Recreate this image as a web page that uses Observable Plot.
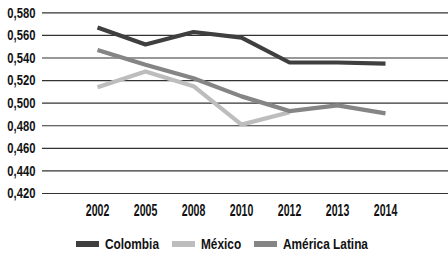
<!DOCTYPE html>
<html>
<head>
<meta charset="utf-8">
<script src="https://cdn.jsdelivr.net/npm/d3@7"></script>
<script src="https://cdn.jsdelivr.net/npm/@observablehq/plot@0.6"></script>
<style>
  html, body { margin: 0; padding: 0; background: #fff; }
  #chart { width: 448px; height: 259px; overflow: hidden; }
  .legend { display: flex; align-items: center; height: 31px; padding-left: 76px;
            font-family: "Liberation Sans", Arial, sans-serif; font-size: 15px; color: #111; font-weight: bold; }
  .legend .item { display: flex; align-items: center; margin-right: 13px; }
  .legend .sw { width: 23px; height: 6px; margin-right: 6px; }
  .legend .lw { overflow: visible; white-space: nowrap; }
  .legend .lw span { display: inline-block; transform: scaleX(0.79); transform-origin: 0 50%; }
</style>
</head>
<body>
<div id="chart"></div>
<script>
const years = ["2002", "2005", "2008", "2010", "2012", "2013", "2014"];
const seriesNames = ["Colombia", "México", "América Latina"];
const colombia = [0.567, 0.552, 0.563, 0.558, 0.536, 0.536, 0.535];
const mexico = [0.514, 0.528, 0.515, 0.481, 0.492, null, null];
const americaLatina = [0.547, 0.534, 0.522, 0.506, 0.493, 0.498, 0.491];
const yTicks = [0.42, 0.44, 0.46, 0.48, 0.50, 0.52, 0.54, 0.56, 0.58];
const colors = ["#3f3f3f", "#bdbdbd", "#858585"];

const valuesBySeries = [colombia, mexico, americaLatina];
const rows = [];
// draw order: México, América Latina, Colombia
[1, 2, 0].forEach(si => {
  years.forEach((yr, i) => {
    const v = valuesBySeries[si][i];
    if (v != null) rows.push({ series: seriesNames[si], year: yr, value: v });
  });
});

const fmt = v => d3.format(".3f")(v).replace(".", ",");

const plot = Plot.plot({
  width: 448,
  height: 228,
  marginLeft: 42,
  marginRight: 0,
  marginTop: 12,
  marginBottom: 35,
  style: { fontFamily: "Liberation Sans, Arial, sans-serif", fontSize: "15px", color: "#111", background: "#fff" },
  x: { type: "point", domain: years, range: [70, 411], label: null },
  y: { domain: [0.42, 0.58], range: [193, 12.3], label: null },
  color: { domain: seriesNames, range: colors },
  marks: [
    Plot.ruleY(yTicks, { stroke: "#333", strokeWidth: 1.2, strokeOpacity: 1 }),
    Plot.axisY({ ticks: yTicks, tickFormat: fmt, tickSize: 0, tickPadding: 7, fontWeight: "bold", fill: "#111", fontSize: 15 }),
    Plot.axisX({ tickSize: 0, tickPadding: 11, fontWeight: "bold", fill: "#111", fontSize: 16 }),
    Plot.line(rows, { x: "year", y: "value", z: "series", stroke: "series", strokeWidth: 4.2, strokeLinecap: "butt", strokeLinejoin: "miter" })
  ]
});
document.getElementById("chart").appendChild(plot);

// condense tick label text horizontally about its anchor (the reference uses a condensed face)
function condense(selector, s, anchor) {
  d3.select(plot).selectAll(selector).each(function () {
    const b = this.getBBox();
    const cx = anchor === "end" ? b.x + b.width : b.x + b.width / 2;
    const t = this.getAttribute("transform") || "";
    this.setAttribute("transform", `${t} translate(${cx},0) scale(${s},1) translate(${-cx},0)`);
  });
}
condense("g[aria-label='y-axis tick label'] text", 0.75, "end");
condense("g[aria-label='x-axis tick label'] text", 0.66, "middle");

const legend = document.createElement("div");
legend.className = "legend";
document.getElementById("chart").appendChild(legend);
seriesNames.forEach((name, i) => {
  const item = document.createElement("div");
  item.className = "item";
  const sw = document.createElement("div");
  sw.className = "sw";
  sw.style.background = colors[i];
  const lw = document.createElement("div");
  lw.className = "lw";
  const label = document.createElement("span");
  label.textContent = name;
  lw.appendChild(label);
  item.appendChild(sw);
  item.appendChild(lw);
  legend.appendChild(item);
  lw.style.width = label.getBoundingClientRect().width + "px";
});
</script>
</body>
</html>
